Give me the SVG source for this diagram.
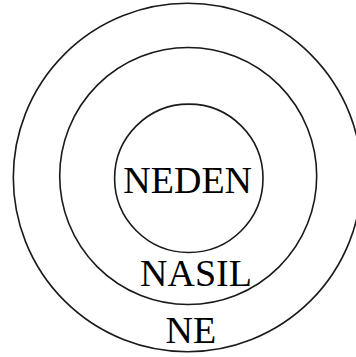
<svg xmlns="http://www.w3.org/2000/svg" width="356" height="357" viewBox="0 0 356 357">
<style>
.ring{fill:none;stroke:#1a1a1a;stroke-width:1.6}
.lbl{font-family:"Liberation Serif","Times New Roman",serif;font-size:38px;fill:#000}
</style>
<rect width="356" height="357" fill="#fff"/>
<g id="ne">
<circle class="ring" cx="187.5" cy="177.5" r="174.2"/>
<text class="lbl" x="165.5" y="343">NE</text>
</g>
<g id="nasil">
<circle class="ring" cx="188.2" cy="176" r="128.5"/>
<text class="lbl" x="140" y="286">NASIL</text>
</g>
<g id="neden">
<circle class="ring" cx="188.8" cy="178.3" r="74.2"/>
<text class="lbl" x="123.3" y="193.3">NEDEN</text>
</g>
<g id="connectors"/>
</svg>
